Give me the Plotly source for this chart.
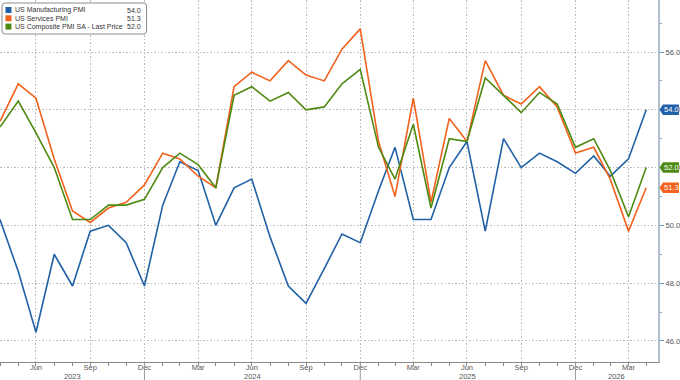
import pandas as pd
import plotly.graph_objects as go

# ---------------- data ----------------
months = pd.date_range("2023-04-30", "2026-04-30", freq="ME")
manufacturing = [50.2, 48.4, 46.3, 49.0, 47.9, 49.8, 50.0, 49.4, 47.9, 50.7,
                 52.2, 51.9, 50.0, 51.3, 51.6, 49.6, 47.9, 47.3, 48.5, 49.7,
                 49.4, 51.2, 52.7, 50.2, 50.2, 52.0, 52.9, 49.8, 53.0, 52.0,
                 52.5, 52.2, 51.8, 52.4, 51.7, 52.3, 54.0]
services = [53.6, 54.9, 54.4, 52.3, 50.5, 50.1, 50.6, 50.8, 51.4, 52.5,
            52.3, 51.7, 51.3, 54.8, 55.3, 55.0, 55.7, 55.2, 55.0, 56.1,
            56.8, 52.9, 51.0, 54.4, 50.8, 53.7, 52.9, 55.7, 54.5, 54.2,
            54.8, 54.1, 52.5, 52.7, 51.6, 49.8, 51.3]
composite = [53.4, 54.3, 53.2, 52.0, 50.2, 50.2, 50.7, 50.7, 50.9, 52.0,
             52.5, 52.1, 51.3, 54.5, 54.8, 54.3, 54.6, 54.0, 54.1, 54.9,
             55.4, 52.7, 51.6, 53.5, 50.6, 53.0, 52.9, 55.1, 54.5, 53.9,
             54.6, 54.2, 52.7, 53.0, 51.9, 50.3, 52.0]
series_names = ["US Manufacturing PMI", "US Services PMI",
                "US Composite PMI SA - Last Price"]
series_colors = ["#2160a6", "#f2621c", "#4e8a12"]
quarter_ticks = ["2023-06-30", "2023-09-30", "2023-12-31", "2024-03-31",
                 "2024-06-30", "2024-09-30", "2024-12-31", "2025-03-31",
                 "2025-06-30", "2025-09-30", "2025-12-31", "2026-03-31"]
quarter_labels = ["Jun", "Sep", "Dec", "Mar"] * 3
year_labels = ["2023", "2024", "2025", "2026"]
year_bounds = ["2023-12-31", "2024-12-31", "2025-12-31"]
y_ticks = [46, 48, 50, 52, 54, 56]

# ---------------- layout constants ----------------
W, H = 680, 380
ML, MR, MT, MB = 0, 20, 0, 18
PW, PH = W - ML - MR, H - MT - MB
x_start = pd.Timestamp("2023-04-30")
x_end = pd.Timestamp("2026-05-20")
y_min, y_max = 45.27, 57.8
FONT = "Liberation Sans"
GRID_DASH = "1.5px,2px"
GRID_COLOR = "#bababa"


def px(xp):
    return xp / PW


def py(yp):
    return 1 - yp / PH


fig = go.Figure()
all_series = [manufacturing, services, composite]
for name, vals, col in zip(series_names, all_series, series_colors):
    fig.add_trace(go.Scatter(x=months, y=vals, mode="lines", name=name,
                             line=dict(color=col, width=1.6),
                             showlegend=False, hoverinfo="x+y"))

fig.update_layout(
    width=W, height=H,
    margin=dict(l=ML, r=MR, t=MT, b=MB),
    paper_bgcolor="white", plot_bgcolor="white",
    font=dict(family=FONT, size=8, color="#555555"),
)
fig.update_xaxes(
    range=[x_start, x_end],
    tickmode="array", tickvals=quarter_ticks, ticktext=quarter_labels,
    showgrid=True, gridcolor=GRID_COLOR, griddash=GRID_DASH, gridwidth=1,
    showline=True, linecolor="#8a8a8a", linewidth=1,
    ticks="outside", ticklen=3, tickcolor="#8a8a8a",
    ticklabelstandoff=-5,
    tickfont=dict(size=7.5, color="#555555"),
    minor=dict(tickmode="array", tickvals=list(months), ticks="outside",
               ticklen=3, tickcolor="#8a8a8a", showgrid=False),
    zeroline=False, fixedrange=True,
)
fig.update_yaxes(
    range=[y_min, y_max], side="right",
    tickmode="array", tickvals=y_ticks,
    ticktext=[f"{v:.1f}" for v in y_ticks],
    showgrid=True, gridcolor=GRID_COLOR, griddash=GRID_DASH, gridwidth=1,
    showline=True, linecolor="#aebfd0", linewidth=2,
    ticks="outside", ticklen=4, tickcolor="#6d8fb0",
    tickfont=dict(size=7.5, color="#555555"),
    minor=dict(dtick=1, tick0=45, ticks="outside", ticklen=2,
               tickcolor="#8aa5c0", showgrid=False),
    zeroline=False, fixedrange=True,
)

shapes = []
annotations = []

# year boundary long ticks
for d in year_bounds:
    shapes.append(dict(type="line", xref="x", yref="paper", x0=d, x1=d,
                       y0=0, y1=-MB / PH, line=dict(color="#9a9a9a", width=1)))

# year labels centered on their visible spans
edges = [x_start] + [pd.Timestamp(d) for d in year_bounds] + [x_end]
for lab, a, b in zip(year_labels, edges[:-1], edges[1:]):
    annotations.append(dict(x=a + (b - a) / 2, xref="x", y=-14.5 / PH, yref="paper",
                            text=lab, showarrow=False, xanchor="center",
                            yanchor="middle",
                            font=dict(size=7.5, color="#555555", family=FONT)))

# legend box (rounded rectangle)
x0, y0, x1, y1, r = 2, 3, 147, 34, 3
path = (f"M {px(x0 + r)},{py(y0)} L {px(x1 - r)},{py(y0)} "
        f"Q {px(x1)},{py(y0)} {px(x1)},{py(y0 + r)} "
        f"L {px(x1)},{py(y1 - r)} Q {px(x1)},{py(y1)} {px(x1 - r)},{py(y1)} "
        f"L {px(x0 + r)},{py(y1)} Q {px(x0)},{py(y1)} {px(x0)},{py(y1 - r)} "
        f"L {px(x0)},{py(y0 + r)} Q {px(x0)},{py(y0)} {px(x0 + r)},{py(y0)} Z")
shapes.append(dict(type="path", xref="paper", yref="paper", path=path,
                   fillcolor="white", line=dict(color="#8c8c8c", width=1),
                   layer="above"))
row_y = [10, 18.3, 26.6]
for name, vals, col, ry in zip(series_names, all_series, series_colors, row_y):
    shapes.append(dict(type="rect", xref="paper", yref="paper",
                       x0=px(5.5), x1=px(11.5), y0=py(ry - 3), y1=py(ry + 3),
                       fillcolor=col, line=dict(width=0), layer="above"))
    annotations.append(dict(x=px(13.5), y=py(ry), xref="paper", yref="paper",
                            text=name, showarrow=False, xanchor="left",
                            yanchor="middle",
                            font=dict(size=7, color="#333333", family=FONT)))
    annotations.append(dict(x=px(143.5), y=py(ry), xref="paper", yref="paper",
                            text=f"{vals[-1]:.1f}", showarrow=False,
                            xanchor="right", yanchor="middle",
                            font=dict(size=7, color="#333333", family=FONT)))

# last-value tags on the right axis
h = 5.2 / PH * (y_max - y_min)
xl, xb, xr = px(661.5), px(665), px(681)
for vals, col in zip(all_series, series_colors):
    v = vals[-1]
    tag = (f"M {xl},{v} L {xb},{v + h} L {xr},{v + h} L {xr},{v - h} "
           f"L {xb},{v - h} Z")
    shapes.append(dict(type="path", xref="paper", yref="y", path=tag,
                       fillcolor=col, line=dict(width=0), layer="above"))
    annotations.append(dict(x=px(664.5), y=v, xref="paper", yref="y",
                            text=f"{v:.1f}", showarrow=False, xanchor="left",
                            yanchor="middle",
                            font=dict(size=7.5, color="white", family=FONT)))

fig.update_layout(shapes=shapes, annotations=annotations)
fig.write_html(
    "out.html",
    config={"displayModeBar": False},
    post_script="document.body.style.margin='0';"
                "document.body.style.overflow='hidden';",
)
